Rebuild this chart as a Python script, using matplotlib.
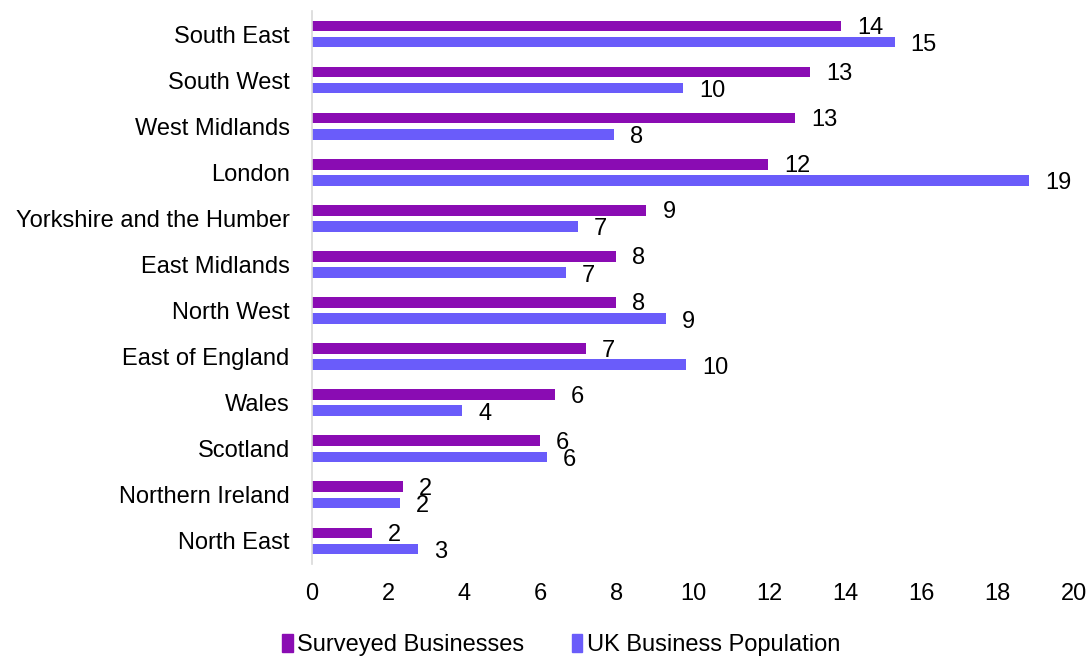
import matplotlib.pyplot as plt
import numpy as np
from matplotlib.patches import Patch

plt.rcParams['font.family'] = ['Liberation Sans', 'DejaVu Sans']

# regional share of businesses (%), top to bottom as listed
regions = ["South East", "South West", "West Midlands", "London",
           "Yorkshire and the Humber", "East Midlands", "North West",
           "East of England", "Wales", "Scotland", "Northern Ireland",
           "North East"]
surveyed = [13.88, 13.07, 12.68, 11.97, 8.78, 7.97, 7.97, 7.18, 6.38, 5.98, 2.38, 1.58]
population = [15.29, 9.74, 7.93, 18.82, 6.97, 6.66, 9.29, 9.83, 3.95, 6.16, 2.31, 2.79]

purple = "#8A0CB3"
blue = "#6A5CFA"
fs = 17

fig = plt.figure(figsize=(10.9, 6.59), dpi=100)
ax = fig.add_axes([0.2862, 0.1442, 0.6991, 0.8391])

y = np.arange(len(regions))[::-1]
h = 0.23
off = 0.175

ax.barh(y + off, surveyed, height=h, color=purple)
ax.barh(y - off, population, height=h, color=blue)

# value labels, rounded to whole percent
for yi, v in zip(y, surveyed):
    ax.annotate(f"{v:.0f}", (v, yi + off), xytext=(16, -2), textcoords="offset pixels",
                ha="left", va="center", fontsize=fs)
for yi, v in zip(y, population):
    ax.annotate(f"{v:.0f}", (v, yi - off), xytext=(16, -3), textcoords="offset pixels",
                ha="left", va="center", fontsize=fs)

ax.set_xlim(0, 20)
ax.set_ylim(-0.5, len(regions) - 0.5)
ax.set_xticks(range(0, 21, 2))
ax.set_yticks(y)
ax.set_yticklabels(regions)
ax.tick_params(axis="x", length=0, pad=14, labelsize=fs)
ax.tick_params(axis="y", length=0, pad=16, labelsize=fs)

for s in ["top", "right", "bottom"]:
    ax.spines[s].set_visible(False)
ax.spines["left"].set_color("#D9D9D9")
ax.spines["left"].set_linewidth(1.2)

handles = [Patch(color=purple, label="Surveyed Businesses"),
           Patch(color=blue, label="UK Business Population")]
fig.legend(handles=handles, loc="center", bbox_to_anchor=(0.515, 0.021), ncol=2,
           frameon=False, fontsize=fs, handlelength=0.45, handleheight=0.75,
           handletextpad=0.2, columnspacing=2.0, borderpad=0)

fig.savefig("out.png", dpi=100)
